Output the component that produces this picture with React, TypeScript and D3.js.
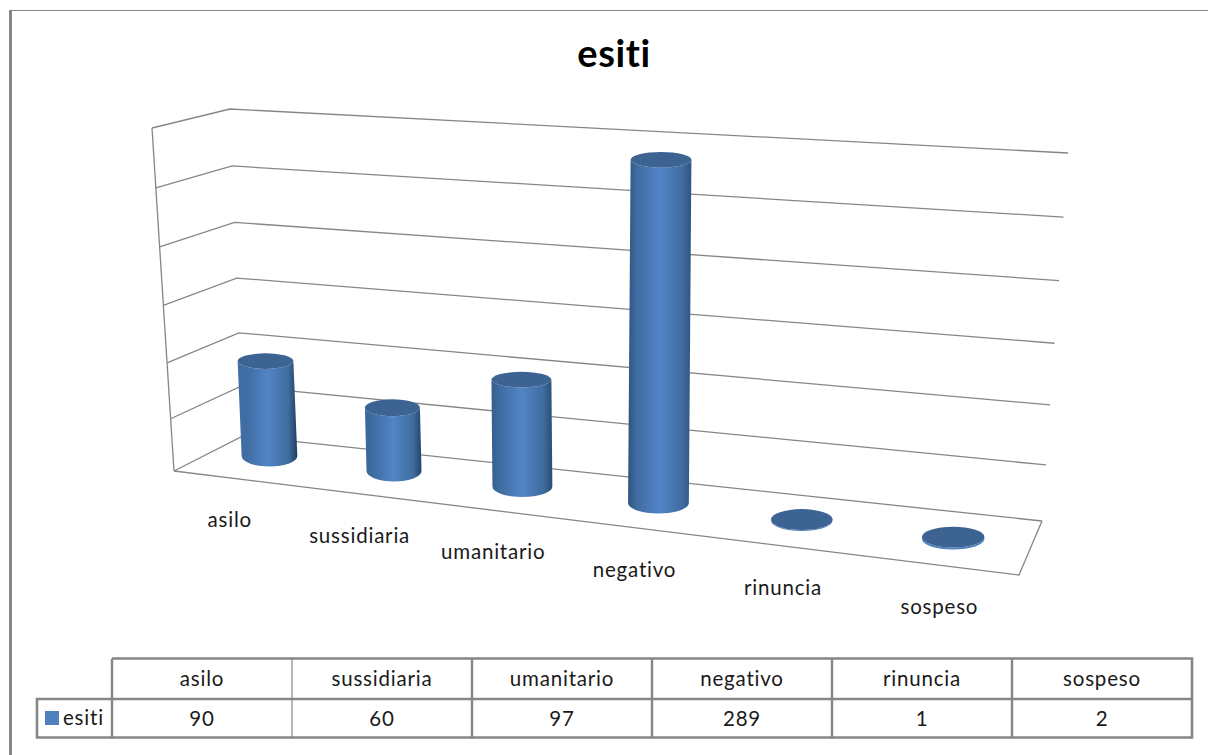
import React from "react";
import * as d3 from "d3";

const title = "esiti";
const seriesName = "esiti";
const categories = ["asilo", "sussidiaria", "umanitario", "negativo", "rinuncia", "sospeso"];
const values = [90, 60, 97, 289, 1, 2];
const valueTicks = [0, 50, 100, 150, 200, 250, 300];

const WIDTH = 1208;
const HEIGHT = 755;
const LINE = "#868686";
const FONT = "Lato, 'Open Sans', sans-serif";

type Pt = [number, number];

// Corners of the 3D box: floor and the plane at the axis maximum.
const floorFL: Pt = [174, 471];
const floorBL: Pt = [243, 436];
const floorBR: Pt = [1042, 521];
const floorFR: Pt = [1019, 575];
const topFL: Pt = [152, 128];
const topBL: Pt = [230, 109];
const topBR: Pt = [1068, 153];
const topFR: Pt = [1030, 190];

const mix = (a: Pt, b: Pt, t: number): Pt => [a[0] + (b[0] - a[0]) * t, a[1] + (b[1] - a[1]) * t];

const bandScale = d3.scaleBand<string>().domain(categories).range([0, 1]);
const bandCentre = (name: string) => (bandScale(name) ?? 0) + bandScale.bandwidth() / 2;

// Foreshortening along the category axis and up the value axis.
const across = d3
  .scaleLinear()
  .domain([0, ...categories.map(bandCentre), 1])
  .range([0, 0.066, 0.2197, 0.3778, 0.545, 0.7207, 0.9058, 1]);
const heightScale = d3.scalePow().exponent(1.05).domain([0, 300]).range([0, 1]);

function project(u: number, depth: number, value: number): Pt {
  const a = across(u);
  const floor = mix(mix(floorFL, floorFR, a), mix(floorBL, floorBR, a), depth);
  const top = mix(mix(topFL, topFR, a), mix(topBL, topBR, a), depth);
  return mix(floor, top, heightScale(value));
}

// The row of cylinders sits slightly skewed on the floor.
const barDepth = d3.scaleLinear().domain([0, 1]).range([0.61, 0.49]);
const radiusX = d3.scaleLinear().domain([0, 0.22, 0.38, 1]).range([28, 27.5, 30, 31.5]);
const radiusY = d3.scaleLinear().domain([0, 80]).range([10.5, 7.8]).clamp(true);
const darkRight = d3.scaleLinear<string>().domain([0, 0.55, 1]).range(["#1d3a5e", "#2f5580", "#2f5580"]);
const darkLeft = d3.scaleLinear<string>().domain([0, 0.55, 1]).range(["#4373ab", "#2f5580", "#2f5580"]);

const polyline = (pts: Pt[]) => d3.line()(pts) ?? "";

function Cylinder({ index, name, value }: { index: number; name: string; value: number }) {
  const u = bandCentre(name);
  const depth = barDepth(across(u));
  const [bx, by] = project(u, depth, 0);
  const [tx, ty] = project(u, depth, value);
  const rx = radiusX(across(u));
  const rBottom = radiusY(0);
  const rTop = radiusY(value);
  const side =
    `M${tx - rx},${ty} L${bx - rx},${by} ` +
    `A${rx},${rBottom} 0 0 0 ${bx + rx},${by} ` +
    `L${tx + rx},${ty} ` +
    `A${rx},${rTop} 0 0 1 ${tx - rx},${ty} Z`;
  return (
    <g>
      <defs>
        <linearGradient id={`bar-${index}`} x1="0" x2="1" y1="0" y2="0">
          <stop offset="0" stopColor={darkLeft(across(u))} />
          <stop offset="0.14" stopColor="#3f6ca1" />
          <stop offset="0.5" stopColor="#5285c6" />
          <stop offset="0.85" stopColor="#3f6d9f" />
          <stop offset="1" stopColor={darkRight(across(u))} />
        </linearGradient>
      </defs>
      <path d={side} fill={value < 5 ? "#4f81bd" : `url(#bar-${index})`} />
      <ellipse cx={tx} cy={ty} rx={rx} ry={rTop} fill="#3c6391" />
    </g>
  );
}

export default function App() {
  const colEdges = d3.range(categories.length + 1).map((i) => 112 + i * 180);
  const tableTop = 658.5;
  const tableMid = 699;
  const tableBottom = 737.5;
  const legendLeft = 37;

  return (
    <svg
      width={WIDTH}
      height={HEIGHT}
      viewBox={`0 0 ${WIDTH} ${HEIGHT}`}
      style={{ position: "absolute", left: 0, top: 0, background: "#fff", fontVariantLigatures: "none" }}
      fontFamily={FONT}
    >
      {/* Chart frame: only the top and left edges fall inside the view */}
      <line x1={10} x2={WIDTH} y1={10.5} y2={10.5} stroke={LINE} strokeWidth={1.2} />
      <line x1={10.5} x2={10.5} y1={10} y2={HEIGHT} stroke={LINE} strokeWidth={3} />

      <text x={614} y={67} textAnchor="middle" fontSize={38} fontWeight={700} letterSpacing={0.6} fill="#000">
        {title}
      </text>

      {/* Value gridlines on the side and back walls */}
      <g fill="none" stroke={LINE} strokeWidth={1.3}>
        {valueTicks.map((t) => (
          <path key={t} d={polyline([project(0, 0, t), project(0, 1, t), project(1, 1, t)])} />
        ))}
        <path d={polyline([project(0, 0, 0), project(0, 0, valueTicks[valueTicks.length - 1])])} />
        <path d={polyline([project(1, 1, 0), project(1, 0, 0), project(0, 0, 0)])} />
      </g>

      {categories.map((name, i) => (
        <Cylinder key={name} index={i} name={name} value={values[i]} />
      ))}

      {/* Category labels run along the front edge of the floor */}
      <g fontSize={20.5} fill="#1a1a1a" textAnchor="middle" letterSpacing={0.8}>
        {categories.map((name) => {
          const [x, y] = project(bandCentre(name), 0, 0);
          return (
            <text key={name} x={x} y={y + 49}>
              {name}
            </text>
          );
        })}
      </g>

      {/* Data table below the plot */}
      <g stroke={LINE} fill="none">
        <path d={`M${colEdges[0]},${tableTop} H${colEdges[6]} V${tableBottom} H${legendLeft} V${tableMid} H${colEdges[6]}`} strokeWidth={2.6} />
        {colEdges.slice(0, -1).map((x, i) => (
          <line key={x} x1={x} x2={x} y1={tableTop} y2={tableBottom} strokeWidth={i === 1 ? 1.2 : 2.4} />
        ))}
      </g>
      <rect x={45} y={711} width={14} height={14} fill="#4f81bd" />
      <text x={63} y={725} fontSize={20.5} fill="#1a1a1a" letterSpacing={0.8}>
        {seriesName}
      </text>
      <g fontSize={20.5} fill="#1a1a1a" textAnchor="middle" letterSpacing={0.8}>
        {categories.map((name, i) => (
          <g key={name}>
            <text x={(colEdges[i] + colEdges[i + 1]) / 2} y={686}>
              {name}
            </text>
            <text x={(colEdges[i] + colEdges[i + 1]) / 2} y={726}>
              {values[i]}
            </text>
          </g>
        ))}
      </g>
    </svg>
  );
}
